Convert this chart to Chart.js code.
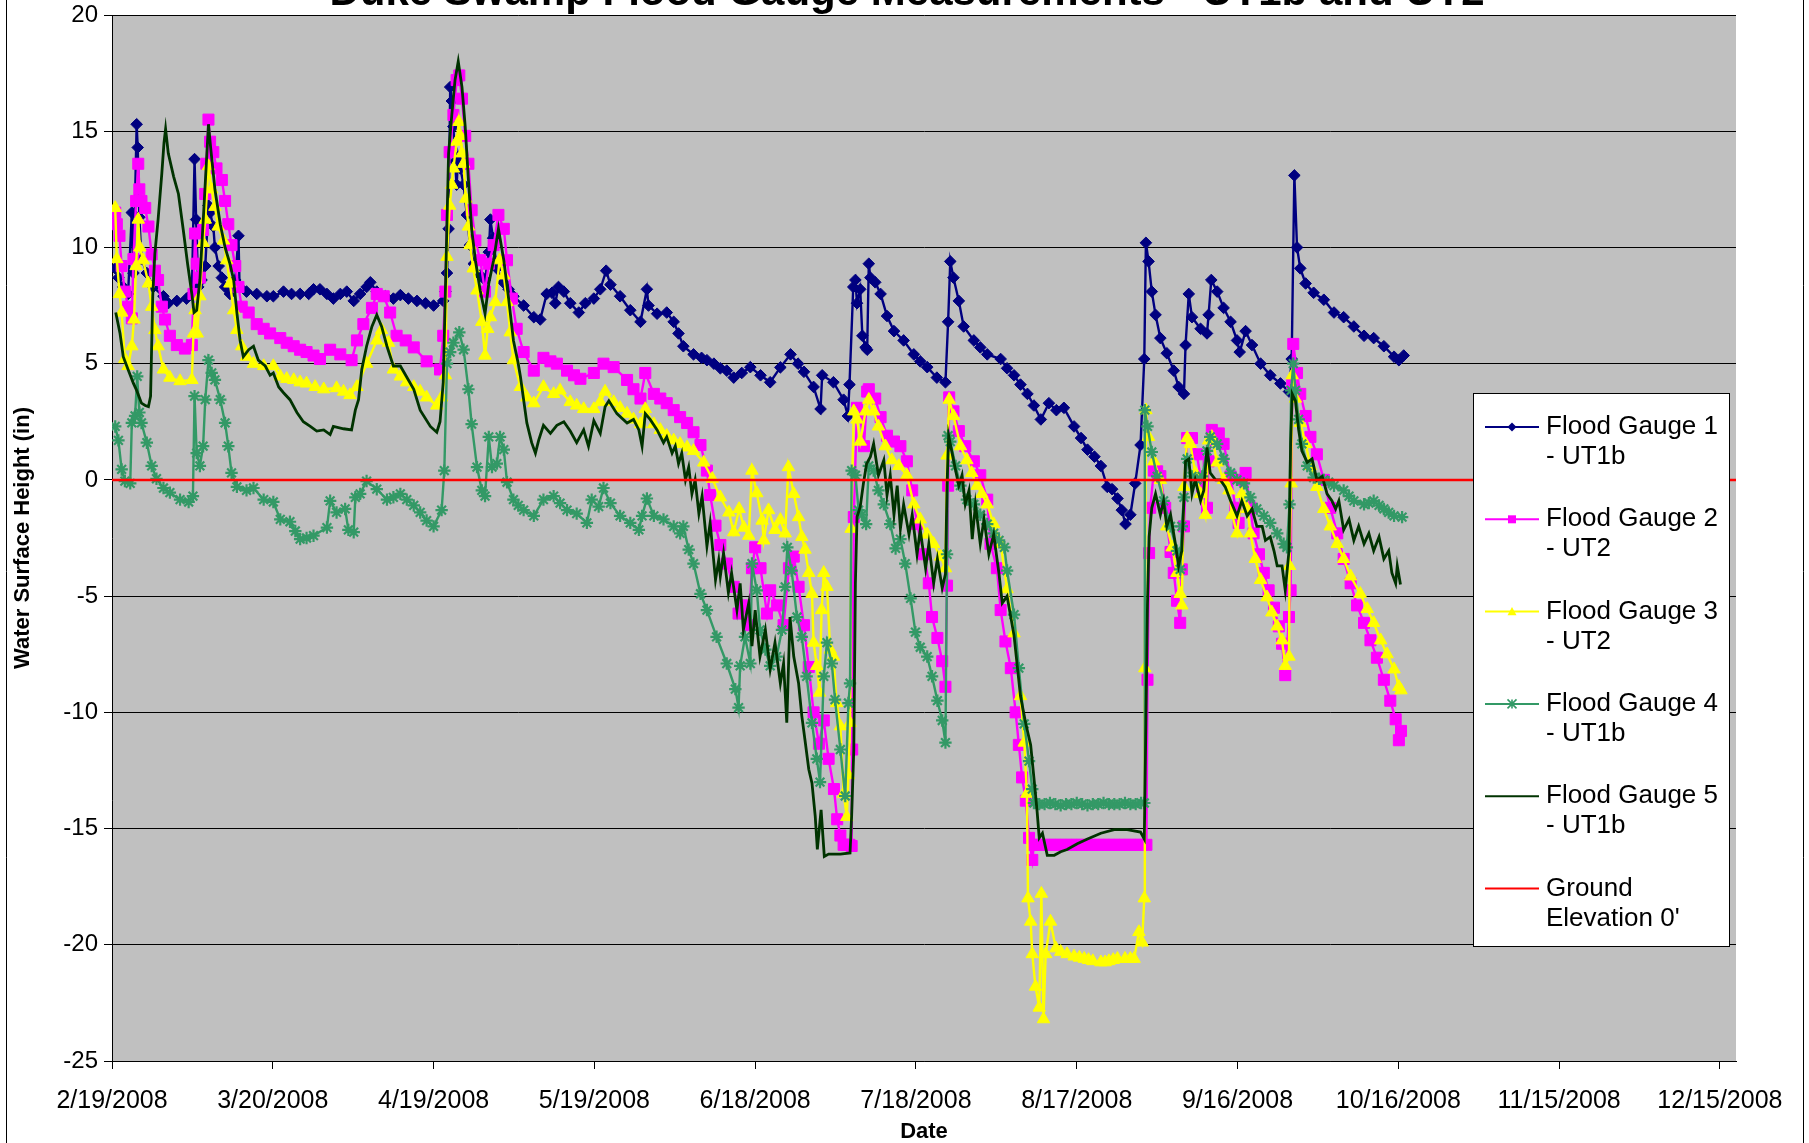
<!DOCTYPE html>
<html>
<head>
<meta charset="utf-8">
<script src="https://cdn.jsdelivr.net/npm/chart.js@4.4.1/dist/chart.umd.min.js"></script>
<style>
  html, body { margin: 0; padding: 0; background: #fff; overflow: hidden; }
  #wrap { position: relative; width: 1809px; height: 1143px; }
</style>
</head>
<body>
<div id="wrap"><canvas id="gaugeChart" width="1809" height="1143"></canvas></div>
<script>
// x values are days after 2/19/2008
const tickDays = [0, 30, 60, 90, 120, 150, 180, 210, 240, 270, 300];
const yTicks = [-25, -20, -15, -10, -5, 0, 5, 10, 15, 20];

const gauge1 = [[0.6,9.1],[1.2,8.7],[2.1,8.3],[3.0,8.0],[3.7,11.5],[4.0,8.9],[4.6,15.3],[4.8,14.3],[5.1,11.3],[5.5,9.5],[6.5,8.9],[7.7,8.3],[9.6,7.9],[10.5,7.6],[12.1,7.7],[13.9,7.8],[14.9,8.0],[15.4,13.8],[15.7,11.2],[16.1,8.3],[16.7,8.6],[17.4,9.2],[18.0,11.8],[18.3,11.5],[18.9,10.9],[19.2,10.0],[19.9,9.2],[20.5,8.7],[21.1,8.3],[22.0,8.0],[23.0,8.6],[23.6,10.5],[23.8,8.3],[25.1,8.1],[27.0,8.0],[28.9,7.9],[30.1,7.9],[32.0,8.1],[33.5,8.0],[35.1,8.0],[36.7,8.0],[37.6,8.2],[38.8,8.2],[40.1,8.0],[41.3,7.8],[42.6,8.0],[43.8,8.1],[45.1,7.7],[46.3,8.0],[47.5,8.3],[48.2,8.5],[49.4,8.1],[51.0,7.9],[52.5,7.8],[53.8,7.95],[55.3,7.8],[56.9,7.7],[58.5,7.6],[60.0,7.5],[61.8,7.7],[62.2,8.1],[62.5,8.9],[62.8,10.8],[63.1,16.9],[63.4,16.3],[63.7,15.2],[64.0,13.7],[64.3,12.7],[64.6,13.9],[65.0,13.4],[65.6,12.7],[66.2,11.4],[66.8,10.1],[67.5,9.3],[68.7,8.8],[69.6,8.6],[70.3,9.8],[70.6,11.2],[71.1,10.4],[71.8,9.1],[73.0,8.5],[74.0,8.2],[74.9,7.9],[76.8,7.5],[78.7,7.0],[79.9,6.9],[81.1,8.0],[82.1,8.05],[82.7,7.6],[83.3,8.3],[84.3,8.1],[85.5,7.6],[87.1,7.2],[88.3,7.6],[89.9,7.8],[91.1,8.2],[92.2,9.0],[93.0,8.4],[94.8,7.9],[96.7,7.3],[98.6,6.8],[99.8,8.2],[100.1,7.5],[101.7,7.15],[103.5,7.2],[104.8,6.8],[105.7,6.3],[106.6,5.75],[108.5,5.4],[110.0,5.25],[111.0,5.15],[112.3,5.0],[113.5,4.8],[114.7,4.7],[116.0,4.4],[117.5,4.6],[119.1,4.85],[121.0,4.5],[122.8,4.2],[124.7,4.84],[126.6,5.4],[128.0,5.0],[129.1,4.65],[130.9,4.0],[132.2,3.05],[132.5,4.5],[134.6,4.2],[136.5,3.45],[137.3,2.75],[137.6,4.1],[138.3,8.3],[138.7,8.6],[139.0,7.6],[139.6,8.2],[140.0,6.2],[140.6,5.7],[140.9,5.6],[141.2,9.3],[141.5,8.7],[142.4,8.5],[143.4,8.0],[144.6,7.05],[145.9,6.4],[147.7,6.0],[149.6,5.4],[150.8,5.1],[152.1,4.85],[153.9,4.4],[155.5,4.2],[156.0,6.8],[156.4,9.4],[157.0,8.7],[158.0,7.7],[158.9,6.6],[160.8,6.0],[162.0,5.7],[163.3,5.4],[165.8,5.2],[167.0,4.8],[168.3,4.5],[169.5,4.1],[170.8,3.7],[172.0,3.2],[173.3,2.6],[174.8,3.3],[176.2,3.0],[177.6,3.1],[179.5,2.3],[180.8,1.8],[182.0,1.3],[183.3,1.0],[184.5,0.6],[185.7,-0.3],[186.6,-0.4],[187.6,-0.8],[188.4,-1.3],[189.1,-1.9],[190.0,-1.5],[190.9,-0.15],[191.9,1.5],[192.6,5.2],[192.9,10.2],[193.4,9.4],[194.0,8.1],[194.7,7.1],[195.6,6.1],[196.8,5.45],[198.1,4.7],[199.0,4.0],[200.0,3.7],[200.3,5.8],[200.9,8.0],[201.5,7.0],[203.1,6.5],[204.3,6.3],[204.6,7.1],[205.1,8.6],[206.2,8.1],[207.4,7.4],[208.7,6.8],[209.9,6.0],[210.4,5.5],[211.5,6.4],[212.7,5.8],[214.3,5.0],[216.1,4.5],[218.0,4.15],[219.6,3.8],[220.1,5.2],[220.6,13.1],[221.1,10.0],[221.7,9.1],[222.7,8.45],[224.2,8.05],[226.1,7.75],[228.0,7.2],[229.8,7.0],[231.7,6.6],[233.6,6.2],[235.4,6.1],[237.3,5.75],[239.2,5.3],[240.1,5.15],[241.0,5.35]];

const gauge2 = [[0.6,11.5],[0.9,11.0],[1.4,10.5],[1.8,9.2],[2.4,8.1],[3.0,7.45],[3.7,6.95],[4.0,9.5],[4.5,12.0],[4.9,13.6],[5.1,12.5],[5.5,12.0],[6.2,11.7],[6.8,10.9],[7.4,9.7],[8.0,9.0],[8.6,8.6],[9.3,7.45],[9.9,6.9],[10.8,6.2],[12.1,5.8],[13.6,5.65],[14.9,5.8],[15.2,8.0],[15.5,10.6],[15.8,9.3],[16.4,8.7],[17.0,10.75],[17.4,12.3],[17.6,13.6],[18.0,15.5],[18.3,14.55],[18.9,14.1],[19.5,13.4],[20.5,12.9],[21.1,12.0],[21.7,11.0],[22.3,10.1],[23.0,9.2],[23.6,8.3],[24.2,7.45],[25.5,7.2],[27.0,6.7],[28.3,6.5],[29.5,6.3],[31.4,6.1],[32.6,5.9],[33.9,5.75],[35.1,5.6],[36.3,5.5],[37.6,5.35],[38.8,5.2],[40.7,5.6],[42.6,5.4],[44.7,5.15],[45.7,6.0],[46.9,6.7],[48.5,7.4],[49.4,8.0],[50.7,7.9],[51.9,7.2],[53.1,6.2],[54.8,6.0],[56.3,5.7],[58.7,5.1],[61.2,4.75],[61.8,6.2],[62.2,8.1],[62.5,11.4],[63.0,14.1],[63.7,15.7],[64.3,17.2],[64.8,17.4],[65.3,16.4],[65.9,14.8],[66.5,13.6],[67.1,11.6],[67.8,10.3],[68.7,9.45],[69.6,8.1],[70.3,9.3],[71.2,10.1],[72.1,11.4],[73.1,10.8],[73.7,9.45],[74.6,7.8],[75.5,6.5],[76.8,5.5],[78.7,4.7],[80.5,5.25],[81.8,5.1],[83.0,5.0],[84.9,4.7],[86.2,4.5],[87.4,4.35],[89.9,4.6],[91.7,5.0],[93.6,4.85],[96.1,4.3],[97.3,3.9],[98.6,3.5],[99.5,4.6],[101.1,3.7],[102.3,3.5],[103.5,3.3],[104.8,3.0],[106.0,2.7],[107.3,2.45],[108.5,2.05],[109.8,1.5],[111.0,0.4],[111.6,-0.65],[112.6,-1.97],[113.5,-2.8],[114.7,-3.6],[116.0,-4.6],[116.9,-5.75],[117.9,-5.4],[118.8,-6.25],[119.4,-3.8],[120.0,-2.9],[121.0,-3.8],[122.2,-5.75],[122.8,-4.75],[124.1,-5.4],[125.3,-6.25],[126.3,-3.8],[127.2,-3.3],[128.1,-4.6],[129.1,-6.25],[130.0,-8.05],[130.9,-10.0],[131.9,-11.35],[132.8,-10.35],[133.7,-12.0],[134.7,-13.3],[135.3,-14.6],[135.9,-15.3],[136.5,-15.7],[137.1,-15.7],[137.6,-15.7],[138.0,-15.75],[138.1,-11.6],[138.4,-1.6],[139.0,3.1],[139.6,2.7],[140.3,1.45],[140.9,3.8],[141.2,3.9],[142.4,3.5],[143.4,2.7],[144.6,1.9],[145.9,1.65],[147.1,1.45],[148.3,0.8],[149.3,-0.45],[150.2,-1.9],[151.5,-3.2],[152.4,-4.45],[153.0,-5.9],[154.0,-6.8],[154.9,-7.8],[155.5,-8.9],[155.8,-4.55],[156.0,-0.25],[156.2,3.55],[157.0,2.95],[158.0,2.1],[159.2,1.45],[160.8,0.8],[162.0,0.2],[163.3,-0.85],[163.9,-2.75],[165.1,-3.8],[165.8,-5.6],[166.7,-6.95],[167.7,-8.1],[168.6,-10.0],[169.2,-11.4],[169.8,-12.8],[170.5,-13.8],[171.1,-15.4],[171.7,-16.35],[172.0,-15.7],[173,-15.7],[174,-15.7],[175,-15.7],[176,-15.7],[177,-15.7],[178,-15.7],[179,-15.7],[180,-15.7],[181,-15.7],[182,-15.7],[183,-15.7],[184,-15.7],[185,-15.7],[186,-15.7],[187,-15.7],[188,-15.7],[189,-15.7],[190,-15.7],[191,-15.7],[192,-15.7],[193.0,-15.7],[193.2,-8.6],[193.5,-3.15],[193.7,-1.2],[194.4,0.4],[195.0,0.37],[195.6,0.16],[196.5,-1.2],[197.5,-3.1],[198.1,-4.0],[198.7,-5.2],[199.3,-6.15],[199.6,-3.85],[200.0,-2.0],[200.6,1.8],[201.5,1.8],[202.4,1.1],[203.4,-0.3],[204.3,-1.2],[204.6,0.8],[205.2,2.15],[206.5,2.0],[207.4,1.55],[208.7,0.15],[209.6,-1.2],[210.2,-1.85],[210.8,0.0],[211.5,0.3],[212.4,-1.2],[213.0,-2.3],[214.0,-3.2],[214.9,-4.0],[215.8,-4.75],[216.8,-5.5],[217.7,-6.3],[218.3,-7.05],[218.9,-8.4],[219.6,-5.9],[219.9,-4.75],[220.2,4.15],[220.4,5.85],[221.1,4.6],[221.7,3.7],[222.7,2.75],[223.6,1.85],[224.8,1.1],[226.1,0.0],[227.3,-1.2],[228.6,-2.3],[229.8,-3.4],[231.1,-4.45],[232.3,-5.4],[233.6,-6.15],[234.8,-6.9],[236.0,-7.65],[237.3,-8.6],[238.5,-9.5],[239.5,-10.3],[240.1,-11.2],[240.5,-10.8]];

const gauge3 = [[0.6,11.7],[0.9,9.5],[1.4,8.0],[1.8,7.2],[2.4,5.2],[3.0,4.9],[3.7,5.75],[4.1,6.9],[4.5,9.2],[4.9,11.2],[5.2,10.0],[5.8,9.45],[6.8,8.45],[7.4,7.45],[8.0,6.45],[8.6,5.75],[9.6,4.75],[10.8,4.4],[12.7,4.25],[14.9,4.3],[15.2,6.3],[15.5,7.3],[15.9,6.3],[16.4,7.9],[17.0,10.2],[17.4,11.2],[18.0,13.5],[18.6,12.5],[19.2,11.75],[19.8,10.9],[20.8,10.3],[21.4,9.45],[22.0,8.45],[22.7,7.3],[23.3,6.45],[24.2,5.75],[25.1,5.3],[26.4,5.0],[28.3,4.9],[30.1,4.9],[31.4,4.45],[32.6,4.35],[33.9,4.3],[35.1,4.2],[36.3,4.15],[37.9,4.0],[39.5,3.9],[41.9,3.95],[43.2,3.8],[44.4,3.65],[45.7,4.0],[47.5,5.0],[49.4,6.0],[50.3,6.45],[51.6,5.9],[52.5,4.75],[53.8,4.45],[55.0,4.2],[56.3,4.0],[57.5,3.8],[58.7,3.55],[60.6,3.2],[61.5,3.55],[62.2,4.5],[62.5,9.6],[63.0,11.8],[63.4,12.7],[63.7,13.4],[64.3,14.55],[64.7,15.4],[65.0,14.8],[65.3,14.05],[65.6,13.6],[66.0,12.1],[66.5,10.9],[66.8,10.1],[67.4,9.1],[68.1,8.15],[69.0,6.8],[69.6,5.35],[70.1,6.5],[70.6,7.0],[71.5,7.65],[72.3,9.45],[73.1,8.8],[73.7,7.65],[74.3,6.35],[74.9,5.15],[76.2,4.0],[77.4,3.55],[78.7,3.3],[80.5,4.0],[82.4,3.7],[83.6,3.85],[85.5,3.35],[86.7,3.2],[88.0,3.05],[89.9,3.05],[91.1,3.35],[92.0,3.8],[93.6,3.35],[94.8,3.1],[96.1,2.85],[97.3,2.6],[98.6,2.4],[99.5,3.05],[101.1,2.4],[102.3,2.15],[103.5,1.9],[104.8,1.7],[106.0,1.55],[107.3,1.4],[108.5,1.25],[110.4,0.75],[112.0,0.05],[113.5,-0.75],[115.1,-1.4],[116.0,-2.25],[117.0,-1.25],[117.9,-2.05],[118.8,-2.4],[119.4,0.4],[120.3,-0.57],[121.3,-1.75],[121.6,-2.6],[122.5,-1.3],[123.7,-2.15],[124.7,-1.72],[125.6,-2.3],[126.2,0.55],[127.2,-0.6],[128.1,-1.6],[128.7,-2.45],[129.3,-3.0],[130.0,-4.0],[130.6,-4.9],[130.9,-7.0],[131.5,-8.0],[132.0,-9.15],[132.4,-5.6],[132.8,-4.0],[133.4,-4.6],[134.0,-7.3],[134.6,-7.6],[135.2,-9.6],[135.9,-10.6],[136.5,-13.5],[137.1,-14.5],[137.4,-12.7],[137.7,-10.45],[137.9,-2.1],[138.4,2.95],[139.0,2.6],[139.6,1.65],[140.6,2.95],[141.2,3.45],[142.1,2.95],[143.0,2.3],[144.3,1.45],[145.5,0.85],[146.8,0.6],[148.3,0.2],[149.6,-1.05],[150.8,-1.7],[152.1,-2.35],[153.3,-2.75],[154.6,-3.3],[155.5,-3.8],[155.8,1.05],[156.2,3.45],[157.0,2.75],[158.3,1.45],[159.5,0.85],[160.4,0.3],[161.4,-0.25],[162.3,-0.6],[163.3,-1.05],[164.5,-1.9],[165.8,-2.75],[167.0,-4.7],[168.3,-6.6],[169.5,-9.3],[170.2,-11.3],[170.7,-13.5],[170.9,-18.0],[171.4,-19.0],[171.7,-20.4],[172.3,-21.8],[173.0,-22.7],[173.4,-17.8],[173.8,-23.2],[174.2,-20.4],[175.1,-19.0],[176.1,-20.15],[177.0,-20.3],[178.2,-20.4],[179.5,-20.5],[180.5,-20.55],[181.4,-20.6],[182.2,-20.65],[183.0,-20.7],[184.5,-20.75],[185.3,-20.75],[186.0,-20.7],[186.8,-20.65],[187.6,-20.6],[189.0,-20.6],[190.0,-20.6],[190.7,-20.6],[191.6,-19.45],[192.2,-19.9],[192.6,-18.0],[192.7,-8.1],[192.9,3.0],[193.4,1.85],[194.4,0.8],[195.6,0.0],[196.8,-2.0],[197.8,-2.9],[198.7,-4.0],[199.3,-4.9],[199.6,-5.4],[200.0,-0.3],[200.6,1.8],[201.2,1.55],[202.1,0.3],[203.1,-0.6],[204.0,-1.5],[204.6,1.7],[205.2,1.85],[206.2,0.75],[207.4,0.0],[208.4,-0.45],[209.0,-1.5],[209.9,-2.3],[210.8,-0.6],[211.8,-1.25],[212.4,-2.3],[213.3,-3.4],[214.3,-4.3],[215.5,-5.05],[216.4,-5.7],[217.4,-6.3],[218.3,-6.9],[218.9,-8.0],[219.6,-7.6],[219.7,-3.7],[220.0,-0.15],[220.2,4.5],[220.8,3.5],[221.7,2.45],[222.7,1.55],[223.6,0.6],[224.8,-0.3],[226.1,-1.25],[227.3,-2.0],[228.6,-2.75],[229.8,-3.4],[231.1,-4.15],[232.9,-4.9],[234.2,-5.55],[235.4,-6.15],[236.7,-6.9],[237.9,-7.5],[239.2,-8.15],[240.1,-8.9],[240.5,-9.05]];

const gauge4 = [[0.6,2.3],[1.2,1.7],[1.8,0.45],[2.4,-0.05],[3.4,-0.15],[3.7,2.45],[4.3,2.75],[4.7,4.45],[5.1,2.9],[5.5,2.45],[6.5,1.6],[7.4,0.6],[8.3,0.05],[9.6,-0.35],[10.8,-0.55],[12.7,-0.85],[14.3,-0.95],[15.1,-0.7],[15.4,3.6],[15.8,1.15],[16.4,0.6],[17.0,1.45],[17.4,3.45],[18.0,5.15],[18.6,4.6],[19.2,4.3],[20.2,3.45],[21.1,2.45],[21.7,1.45],[22.3,0.3],[23.3,-0.3],[25.1,-0.45],[26.4,-0.35],[28.3,-0.85],[30.1,-0.95],[31.4,-1.7],[33.2,-1.8],[34.2,-2.2],[35.1,-2.55],[36.3,-2.5],[37.6,-2.4],[40.1,-2.05],[40.7,-0.9],[41.9,-1.4],[43.5,-1.25],[44.1,-2.15],[45.1,-2.25],[45.4,-0.75],[46.3,-0.6],[47.5,-0.05],[49.4,-0.4],[51.3,-0.85],[52.5,-0.75],[53.8,-0.6],[55.0,-0.85],[56.3,-1.1],[57.5,-1.4],[58.7,-1.75],[60.0,-2.0],[61.5,-1.3],[62.0,0.4],[62.5,5.0],[63.1,5.5],[63.7,5.9],[64.8,6.35],[65.6,5.6],[66.5,3.9],[67.1,2.4],[68.1,0.55],[69.0,-0.45],[69.6,-0.7],[70.3,1.85],[70.9,0.55],[71.8,0.7],[72.4,1.85],[73.1,1.3],[73.7,-0.1],[74.9,-0.85],[75.8,-1.1],[76.8,-1.3],[78.7,-1.55],[80.5,-0.85],[82.4,-0.7],[83.6,-1.0],[84.9,-1.3],[86.7,-1.45],[88.6,-1.85],[89.5,-0.85],[90.8,-1.15],[91.7,-0.35],[93.0,-1.0],[94.8,-1.55],[96.7,-1.85],[98.3,-2.15],[98.9,-1.55],[99.8,-0.8],[101.1,-1.55],[102.9,-1.7],[104.8,-2.0],[106.0,-2.3],[106.6,-2.0],[107.6,-3.0],[108.5,-3.6],[109.8,-4.9],[111.0,-5.6],[112.8,-6.75],[114.7,-7.9],[116.3,-9.0],[116.9,-9.8],[117.2,-8.0],[118.1,-6.75],[119.1,-7.9],[119.4,-3.6],[120.3,-4.75],[120.9,-6.45],[121.9,-7.3],[122.8,-8.0],[124.0,-7.6],[125.0,-6.45],[125.6,-4.6],[126.0,-2.9],[126.8,-3.9],[127.8,-5.9],[128.7,-6.75],[129.6,-8.45],[130.6,-10.45],[131.5,-12.0],[132.1,-13.0],[132.8,-8.45],[133.4,-7.0],[134.3,-7.9],[134.9,-9.45],[135.9,-11.6],[136.8,-13.6],[137.4,-9.6],[137.7,-8.75],[138.0,0.4],[138.7,0.2],[139.3,-1.3],[139.9,-1.5],[140.7,-1.9],[141.2,0.6],[142.1,0.4],[143.0,-0.45],[144.0,-1.05],[145.2,-1.9],[146.2,-2.95],[147.1,-2.55],[148.0,-3.6],[149.0,-5.1],[149.9,-6.55],[150.8,-7.2],[152.1,-7.6],[153.0,-8.45],[154.0,-9.5],[154.9,-10.35],[155.5,-11.3],[155.8,-3.2],[156.0,1.9],[156.4,1.65],[157.4,0.6],[158.3,-0.25],[159.5,-0.85],[160.8,-1.05],[162.0,-1.5],[163.3,-1.9],[164.5,-2.3],[165.5,-2.6],[166.5,-2.9],[167.0,-3.9],[168.3,-5.8],[169.2,-8.1],[170.2,-10.5],[171.1,-12.1],[171.7,-13.3],[172.0,-13.9],[173,-13.95],[174,-13.95],[175,-13.9],[176,-13.95],[177,-14.0],[178,-13.95],[179,-13.95],[180,-13.9],[181,-13.95],[182,-14.0],[183,-13.95],[184,-13.95],[185,-13.9],[186,-13.95],[187,-13.95],[188,-13.95],[189,-13.9],[190,-13.95],[191,-13.95],[192.0,-13.9],[192.6,-13.9],[192.7,3.0],[193.2,2.3],[194.0,1.2],[195.0,0.15],[196.2,-0.9],[197.5,-2.0],[198.7,-3.05],[199.3,-3.85],[199.6,-2.0],[200.0,-0.75],[200.6,0.9],[201.5,0.15],[202.4,0.0],[203.4,0.15],[204.3,1.25],[204.9,1.85],[206.2,1.55],[207.4,0.9],[208.7,0.3],[209.9,0.0],[211.2,-0.15],[212.4,-0.75],[213.6,-1.25],[214.9,-1.55],[216.1,-1.85],[217.4,-2.3],[218.6,-2.75],[219.2,-2.9],[219.7,-1.05],[220.0,3.85],[220.4,5.0],[220.8,3.85],[221.4,2.6],[222.0,1.55],[223.0,0.6],[224.2,0.1],[225.2,0.05],[226.1,0.0],[227.0,-0.1],[228.0,-0.25],[229.8,-0.45],[230.8,-0.7],[231.7,-0.9],[233.6,-1.05],[234.5,-1.0],[235.4,-0.9],[236.4,-1.1],[237.3,-1.25],[238.2,-1.4],[239.2,-1.55],[240.7,-1.6]];

const gauge5 = [[0.7,7.2],[1.5,6.3],[2.1,5.3],[3.0,4.75],[4.0,4.15],[4.6,3.85],[5.5,3.3],[6.2,3.2],[6.8,3.15],[7.2,3.6],[7.6,7.9],[8.0,9.75],[8.6,11.2],[9.3,13.2],[9.7,14.5],[10.0,15.1],[10.5,14.05],[11.5,13.05],[12.4,12.3],[13.3,10.75],[14.1,9.3],[14.9,8.0],[15.3,7.2],[15.8,7.3],[16.4,8.6],[17.1,11.5],[17.6,13.6],[18.0,15.3],[18.4,14.3],[19.2,12.5],[20.2,11.0],[21.1,10.0],[22.0,9.3],[22.7,8.6],[23.3,7.2],[23.9,6.0],[24.5,5.3],[25.5,5.6],[26.4,5.75],[27.3,5.15],[28.6,4.9],[29.5,4.5],[30.1,4.6],[31.1,4.0],[32.0,3.75],[33.2,3.45],[34.5,2.9],[35.7,2.5],[37.0,2.3],[38.2,2.1],[39.5,2.15],[40.7,1.95],[41.3,2.3],[43.2,2.2],[44.7,2.15],[45.4,3.0],[46.0,3.45],[46.6,4.75],[47.5,5.75],[48.5,6.6],[49.4,7.1],[50.3,6.6],[51.3,5.75],[52.5,4.9],[53.8,4.9],[56.3,3.9],[57.5,3.0],[59.4,2.3],[60.6,2.05],[61.2,2.5],[61.8,4.2],[62.3,9.1],[62.8,14.05],[63.4,15.7],[64.0,17.2],[64.6,18.0],[65.3,16.9],[65.9,15.2],[66.5,12.9],[67.1,10.8],[67.8,9.45],[68.7,8.15],[69.6,7.15],[70.3,8.45],[71.2,9.45],[72.1,10.8],[73.1,9.45],[74.0,7.8],[74.9,6.0],[75.8,5.0],[76.2,4.45],[77.4,2.45],[78.3,1.6],[79.0,1.15],[79.6,1.7],[80.5,2.35],[81.8,2.0],[83.0,2.35],[84.3,2.5],[85.5,2.1],[86.7,1.6],[88.0,2.15],[88.9,1.45],[89.9,2.55],[91.1,2.0],[92.0,3.15],[92.7,3.4],[94.2,2.85],[96.1,2.45],[97.3,2.6],[98.3,2.15],[98.9,1.45],[99.5,2.85],[100.4,2.6],[101.7,2.15],[102.9,1.6],[103.5,1.85],[104.5,1.15],[105.1,1.45],[105.7,0.7],[106.3,1.15],[107.0,0.0],[107.6,0.55],[108.2,-0.6],[108.8,0.0],[109.5,-1.45],[110.1,-0.7],[111.0,-2.85],[111.6,-1.85],[112.6,-4.3],[113.2,-3.45],[113.5,-4.15],[114.1,-3.15],[115.0,-4.85],[115.6,-4.0],[116.6,-5.6],[117.2,-4.45],[117.8,-6.45],[118.8,-5.3],[119.4,-7.15],[120.0,-5.6],[120.9,-7.6],[121.9,-6.45],[122.8,-8.15],[123.7,-7.0],[124.7,-8.75],[125.3,-7.9],[125.9,-10.45],[126.5,-5.9],[127.2,-7.6],[128.1,-8.75],[128.7,-10.15],[129.3,-11.2],[130.0,-12.45],[130.6,-13.05],[131.2,-14.45],[131.6,-15.9],[132.3,-14.2],[132.9,-16.2],[133.7,-16.1],[135.9,-16.1],[137.7,-16.05],[138.0,-14.45],[138.4,-11.6],[138.7,-4.45],[139.0,-1.6],[139.6,-1.15],[140.2,-0.15],[140.8,0.7],[141.5,1.0],[142.1,1.55],[143.0,0.2],[144.0,0.85],[144.6,-0.65],[145.2,0.2],[145.9,-1.5],[146.5,-0.25],[147.1,-2.1],[147.7,-1.05],[148.7,-2.35],[149.3,-1.5],[150.2,-3.2],[150.8,-2.15],[151.8,-3.8],[152.4,-2.75],[153.3,-4.45],[154.0,-3.4],[154.9,-4.65],[155.5,-4.05],[155.8,-0.25],[156.1,1.9],[157.0,0.85],[158.0,-0.25],[158.6,0.2],[159.2,-1.05],[159.9,-0.45],[160.5,-2.55],[161.1,-1.05],[162.0,-2.75],[162.7,-1.7],[163.6,-3.2],[164.5,-2.35],[165.5,-4.05],[166.1,-5.3],[167.0,-5.0],[168.3,-6.7],[169.5,-9.3],[170.5,-10.5],[171.4,-11.4],[172.0,-12.8],[172.6,-14.25],[173.0,-15.4],[173.6,-15.2],[174.5,-16.15],[175.8,-16.15],[177.0,-16.0],[178.2,-15.9],[180.1,-15.65],[182.0,-15.45],[184.5,-15.2],[187.0,-15.05],[189.4,-15.05],[191.9,-15.15],[192.6,-15.45],[192.9,-10.5],[193.2,-5.3],[193.5,-2.45],[194.0,-1.2],[194.7,-0.6],[195.6,-1.5],[196.2,-0.9],[196.8,-2.0],[197.5,-1.5],[198.4,-2.75],[199.0,-3.7],[199.6,-3.05],[200.3,0.8],[200.9,0.9],[201.5,-0.6],[202.1,0.0],[203.1,-0.9],[203.7,-0.45],[204.3,1.4],[204.9,0.3],[205.9,0.0],[206.8,0.0],[207.7,-0.3],[208.7,-0.9],[209.9,-1.55],[210.8,-0.9],[211.8,-1.55],[212.7,-1.25],[213.6,-2.0],[214.6,-2.0],[215.2,-2.6],[216.1,-2.45],[216.8,-3.05],[217.4,-3.7],[218.3,-3.7],[218.9,-4.75],[219.6,-3.05],[219.9,1.55],[220.2,3.7],[220.8,3.4],[221.4,2.15],[222.0,1.25],[223.0,0.75],[223.9,0.9],[224.8,0.0],[225.8,0.15],[226.7,-0.6],[227.6,-0.9],[228.3,-1.25],[228.9,-0.9],[229.8,-2.15],[230.8,-1.7],[231.7,-2.6],[232.6,-2.0],[233.6,-2.75],[234.5,-2.3],[235.4,-3.05],[236.4,-2.45],[237.3,-3.4],[238.2,-3.05],[238.8,-4.0],[239.5,-4.45],[239.8,-3.7],[240.4,-4.5]];

// ground elevation line across the whole date range
const groundLine = [[0, 0], [303, 0]];

const seriesNames = ['Flood Gauge 1 - UT1b', 'Flood Gauge 2 - UT2', 'Flood Gauge 3 - UT2', 'Flood Gauge 4 - UT1b', 'Flood Gauge 5 - UT1b', "Ground Elevation 0'"];
const legendText = [['Flood Gauge 1', '- UT1b'], ['Flood Gauge 2', '- UT2'], ['Flood Gauge 3', '- UT2'], ['Flood Gauge 4', '- UT1b'], ['Flood Gauge 5', '- UT1b'], ['Ground', "Elevation 0'"]];

const FONT = "'Liberation Sans', Arial, sans-serif";

function toPoints(arr) {
  return arr.slice().sort((a, b) => a[0] - b[0]).map(p => ({ x: p[0], y: p[1] }));
}

function dayLabel(d) {
  const t = new Date(2008, 1, 19 + d);
  return (t.getMonth() + 1) + '/' + t.getDate() + '/' + t.getFullYear();
}

function makeSet(i, data, color, style, radius, width, order) {
  return {
    label: seriesNames[i],
    data: toPoints(data),
    borderColor: color,
    backgroundColor: color,
    borderWidth: width,
    pointStyle: style,
    pointRadius: style ? radius : 0,
    pointBackgroundColor: color,
    pointBorderColor: color,
    pointBorderWidth: style === 'star' ? 2.2 : 1,
    tension: 0,
    order: order
  };
}

const datasets = [
  makeSet(0, gauge1, '#000080', 'rectRot', 5.8, 2.4, 5),
  makeSet(1, gauge2, '#FF00FF', 'rect', 7.8, 2.4, 4),
  makeSet(2, gauge3, '#FFFF00', 'triangle', 7.2, 2.4, 3),
  makeSet(3, gauge4, '#339966', 'star', 6.2, 2.4, 2),
  makeSet(4, gauge5, '#003300', false, 0, 2.8, 1),
  makeSet(5, groundLine, '#FF0000', false, 0, 2.5, 0)
];

// small marker painter for the legend
function drawMarker(ctx, style, x, y, r) {
  ctx.beginPath();
  if (style === 'rectRot') {
    ctx.moveTo(x, y - r); ctx.lineTo(x + r, y); ctx.lineTo(x, y + r); ctx.lineTo(x - r, y);
    ctx.closePath(); ctx.fill();
  } else if (style === 'rect') {
    ctx.rect(x - r, y - r, 2 * r, 2 * r); ctx.fill();
  } else if (style === 'triangle') {
    ctx.moveTo(x, y - r); ctx.lineTo(x + r, y + r * 0.8); ctx.lineTo(x - r, y + r * 0.8);
    ctx.closePath(); ctx.fill();
  } else if (style === 'star') {
    ctx.lineWidth = 1.6;
    ctx.moveTo(x - r, y - r); ctx.lineTo(x + r, y + r);
    ctx.moveTo(x - r, y + r); ctx.lineTo(x + r, y - r);
    ctx.moveTo(x, y - r); ctx.lineTo(x, y + r);
    ctx.stroke();
  }
}

const plotBackground = {
  id: 'plotBackground',
  beforeDraw(chart) {
    const { ctx, chartArea: a } = chart;
    ctx.save();
    ctx.fillStyle = '#C0C0C0';
    ctx.fillRect(a.left, a.top, a.right - a.left, a.bottom - a.top);
    // outer chart frame
    ctx.strokeStyle = '#000';
    ctx.lineWidth = 1;
    ctx.beginPath();
    ctx.moveTo(6.5, 0); ctx.lineTo(6.5, chart.height);
    ctx.moveTo(1803.5, 0); ctx.lineTo(1803.5, chart.height);
    ctx.stroke();
    // title, partly cut off at the top edge
    ctx.fillStyle = '#000';
    ctx.font = 'bold 42px ' + FONT;
    ctx.textAlign = 'center';
    ctx.textBaseline = 'alphabetic';
    ctx.fillText('Duke Swamp Flood Gauge Measurements - UT1b and UT2', 907, 5);
    ctx.restore();
  }
};

const boxLegend = {
  id: 'boxLegend',
  afterDraw(chart) {
    const ctx = chart.ctx;
    const bx = 1473, by = 393, bw = 256, bh = 553;
    ctx.save();
    ctx.fillStyle = '#FFFFFF';
    ctx.fillRect(bx, by, bw, bh);
    ctx.strokeStyle = '#000';
    ctx.lineWidth = 1;
    ctx.strokeRect(bx + 0.5, by + 0.5, bw, bh);
    ctx.font = '26px ' + FONT;
    ctx.textAlign = 'left';
    ctx.textBaseline = 'middle';
    chart.data.datasets.forEach((ds, i) => {
      const y = 427 + i * 92.3;
      ctx.strokeStyle = ds.borderColor;
      ctx.fillStyle = ds.borderColor;
      ctx.lineWidth = 2;
      ctx.beginPath();
      ctx.moveTo(1485, y); ctx.lineTo(1539, y);
      ctx.stroke();
      if (ds.pointStyle) drawMarker(ctx, ds.pointStyle, 1512, y, ds.pointStyle === 'rect' ? 4 : 4.5);
      ctx.fillStyle = '#000';
      legendText[i].forEach((line, k) => ctx.fillText(line, 1546, y + k * 30));
    });
    ctx.restore();
  }
};

// keep the plot box where the reference has it, whatever the label overflow
function noAxisPadding(scale) {
  scale.paddingTop = 0;
  scale.paddingBottom = 0;
  scale.paddingLeft = 0;
  scale.paddingRight = 0;
}

new Chart(document.getElementById('gaugeChart'), {
  type: 'line',
  data: { datasets: datasets },
  options: {
    responsive: false,
    animation: false,
    devicePixelRatio: 1,
    layout: { padding: { top: 15, right: 73, bottom: 0, left: 0 }, autoPadding: false },
    plugins: { legend: { display: false }, tooltip: { enabled: false }, title: { display: false } },
    scales: {
      x: {
        type: 'linear',
        min: 0,
        max: 303,
        afterBuildTicks: scale => { scale.ticks = tickDays.map(v => ({ value: v })); },
        afterFit: scale => { scale.height = 82; noAxisPadding(scale); },
        grid: { drawOnChartArea: false, drawTicks: true, tickLength: 8, color: '#000', tickColor: '#000' },
        border: { color: '#000', width: 1 },
        ticks: {
          maxRotation: 0,
          autoSkip: false,
          padding: 17,
          color: '#000',
          font: { family: FONT, size: 25 },
          callback: v => dayLabel(v)
        },
        title: {
          display: true,
          text: 'Date',
          color: '#000',
          font: { family: FONT, size: 22, weight: 'bold', lineHeight: 1 },
          padding: { top: 0, bottom: 0 }
        }
      },
      y: {
        min: -25,
        max: 20,
        afterBuildTicks: scale => { scale.ticks = yTicks.map(v => ({ value: v })); },
        afterFit: scale => { scale.width = 112; noAxisPadding(scale); },
        grid: { color: '#000', lineWidth: 1, drawTicks: true, tickLength: 8, tickColor: '#000' },
        border: { color: '#000', width: 1 },
        ticks: {
          padding: 6,
          color: '#000',
          font: { family: FONT, size: 24 }
        },
        title: {
          display: true,
          text: 'Water Surface Height (in)',
          color: '#000',
          font: { family: FONT, size: 22, weight: 'bold', lineHeight: 1 },
          padding: { top: 12, bottom: 0 }
        }
      }
    }
  },
  plugins: [plotBackground, boxLegend]
});
</script>
</body>
</html>
